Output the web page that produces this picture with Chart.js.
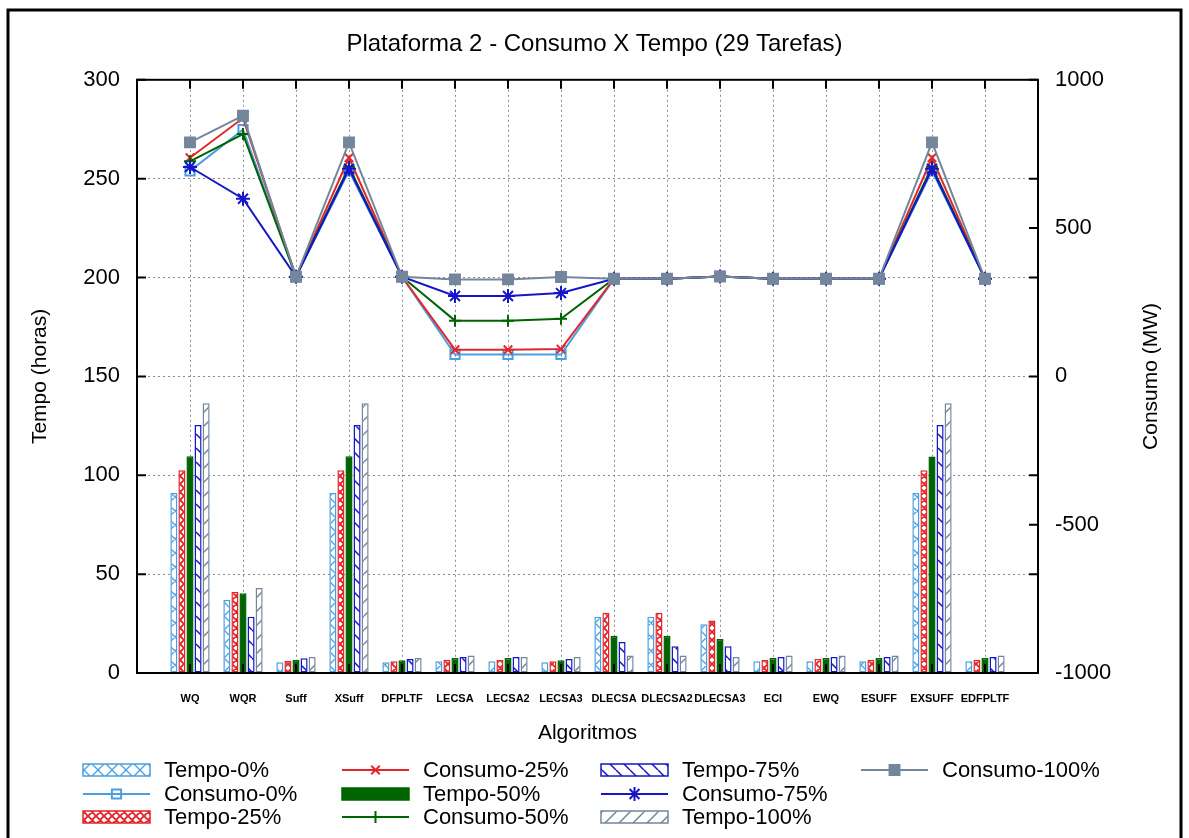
<!DOCTYPE html>
<html>
<head>
<meta charset="utf-8">
<script src="https://cdn.jsdelivr.net/npm/chart.js@4/dist/chart.umd.min.js"></script>
<style>
  html, body { margin: 0; padding: 0; background: #fff; }
  #wrap { width: 1189px; height: 838px; }
</style>
</head>
<body>
<div id="wrap"><canvas id="chart" width="1189" height="838"></canvas></div>
<script>
// --- data ---
var algoritmos = ["WQ", "WQR", "Suff", "XSuff", "DFPLTF", "LECSA", "LECSA2", "LECSA3",
  "DLECSA", "DLECSA2", "DLECSA3", "ECI", "EWQ", "ESUFF", "EXSUFF", "EDFPLTF"];

// tempo (horas), left axis
var tempo0   = [91, 37, 5.4, 91, 5.4, 5.9, 5.9, 5.4, 28.5, 28.5, 24.6, 5.9, 5.9, 5.9, 91, 5.9];
var tempo25  = [102.6, 41, 6.2, 102.6, 5.9, 6.6, 6.6, 5.9, 30.5, 30.5, 26.6, 6.6, 7.1, 6.6, 102.6, 6.6];
var tempo50  = [109.6, 40.3, 6.7, 109.6, 6.4, 7.6, 7.6, 6.4, 18.9, 18.9, 17.2, 7.6, 7.6, 7.6, 109.5, 7.6];
var tempo75  = [125.4, 28.5, 7.4, 125.4, 7.1, 8.1, 8.1, 7.1, 15.7, 13.5, 13.5, 8.1, 8.1, 8.1, 125.4, 8.1];
var tempo100 = [136.4, 43, 8.1, 136.4, 7.6, 8.9, 8.1, 8.1, 8.9, 8.9, 8.1, 8.9, 8.9, 8.9, 136.4, 8.9];

// consumo (MW), right axis
var consumo0   = [693, 832, 336, 693, 336, 74, 74, 74, 329, 329, 337, 329, 329, 329, 693, 329];
var consumo25  = [737, 871, 336, 737, 336, 90, 90, 92, 329, 329, 337, 329, 329, 329, 737, 329];
var consumo50  = [725, 817, 336, 707, 336, 188, 188, 194, 329, 329, 337, 329, 329, 329, 707, 329];
var consumo75  = [706, 599, 336, 700, 336, 271, 271, 281, 329, 329, 337, 329, 329, 329, 700, 329];
var consumo100 = [789, 879, 336, 789, 336, 327, 327, 335, 329, 329, 337, 329, 329, 329, 789, 329];

var tempoTicks = [0, 50, 100, 150, 200, 250, 300];
var consumoTicks = [-1000, -500, 0, 500, 1000];

var FONT = "'Liberation Sans', Arial, Helvetica, sans-serif";
var NARROW = "'Liberation Sans Narrow', 'Liberation Sans', Arial, sans-serif";
var C0 = "#4a9fe0", C25 = "#e3262b", C50 = "#006400", C75 = "#1616c8", C100 = "#74869c";

Chart.defaults.font.family = FONT;
Chart.defaults.color = "#000";

// gnuplot-like fill patterns
function hatch(color, kind, size, lw) {
  var c = document.createElement("canvas");
  c.width = c.height = size;
  var g = c.getContext("2d");
  g.fillStyle = "#fff";
  g.fillRect(0, 0, size, size);
  g.strokeStyle = color;
  g.lineWidth = lw;
  g.beginPath();
  [-size, 0, size].forEach(function(k) {
    if (kind === "back" || kind === "cross") { g.moveTo(k, 0); g.lineTo(k + size, size); }
    if (kind === "fwd" || kind === "cross") { g.moveTo(k + size, 0); g.lineTo(k, size); }
  });
  g.stroke();
  return g.createPattern(c, "repeat");
}

// one empty slot each side, like the xrange of the original
function pad(arr) { return [null].concat(arr, [null]); }

function barSet(label, values, color, fill) {
  return {
    type: "bar", label: label, data: pad(values), yAxisID: "y",
    backgroundColor: fill, borderColor: color, borderWidth: 1.5,
    borderSkipped: false, order: 10,
    categoryPercentage: 0.76, barPercentage: 0.88
  };
}
function lineSet(label, values, color, style, radius, fill, order) {
  return {
    type: "line", label: label, data: pad(values), yAxisID: "y2",
    borderColor: color, backgroundColor: color, borderWidth: 2,
    pointStyle: style, pointRadius: radius, pointBorderWidth: 2,
    pointBorderColor: color, pointBackgroundColor: fill,
    tension: 0, order: order
  };
}

var datasets = [
  barSet("Tempo-0%", tempo0, C0, hatch(C0, "cross", 14, 1.3)),
  lineSet("Consumo-0%", consumo0, C0, "rect", 6.5, "rgba(255,255,255,0)", 5),
  barSet("Tempo-25%", tempo25, C25, hatch(C25, "cross", 8, 1.9)),
  lineSet("Consumo-25%", consumo25, C25, "crossRot", 6, C25, 4),
  barSet("Tempo-50%", tempo50, C50, C50),
  lineSet("Consumo-50%", consumo50, C50, "cross", 6, C50, 3),
  barSet("Tempo-75%", tempo75, C75, hatch(C75, "back", 14, 1.5)),
  lineSet("Consumo-75%", consumo75, C75, "star", 7, C75, 2),
  barSet("Tempo-100%", tempo100, C100, hatch(C100, "fwd", 14, 1.5)),
  lineSet("Consumo-100%", consumo100, C100, "rect", 7, C100, 1)
];

// frame, inward tics, right axis title and the 3-row legend
var gnuplotDecor = {
  id: "gnuplotDecor",
  beforeDraw: function(chart) {
    var ctx = chart.ctx;
    ctx.save();
    ctx.fillStyle = "#fff";
    ctx.fillRect(0, 0, chart.width, chart.height);
    ctx.restore();
  },
  afterDraw: function(chart) {
    var ctx = chart.ctx, a = chart.chartArea;
    var sx = chart.scales.x, sy = chart.scales.y, sy2 = chart.scales.y2;
    ctx.save();
    // outer page frame
    ctx.strokeStyle = "#000";
    ctx.lineWidth = 3;
    ctx.strokeRect(8, 10, 1173, 840);
    ctx.lineWidth = 2;
    ctx.strokeRect(a.left, a.top, a.right - a.left, a.bottom - a.top);
    var t = 9;
    ctx.beginPath();
    for (var i = 1; i <= algoritmos.length; i++) {
      var px = sx.getPixelForValue(i);
      ctx.moveTo(px, a.top); ctx.lineTo(px, a.top + t);
      ctx.moveTo(px, a.bottom); ctx.lineTo(px, a.bottom - t);
    }
    tempoTicks.forEach(function(v) {
      var py = sy.getPixelForValue(v);
      ctx.moveTo(a.left, py); ctx.lineTo(a.left + t, py);
      ctx.moveTo(a.right, py); ctx.lineTo(a.right - t, py);
    });
    consumoTicks.forEach(function(v) {
      var py = sy2.getPixelForValue(v);
      ctx.moveTo(a.right, py); ctx.lineTo(a.right - t, py);
    });
    ctx.stroke();

    // right axis title, read bottom to top
    ctx.font = "21px " + FONT;
    ctx.fillStyle = "#000";
    ctx.textAlign = "center";
    ctx.textBaseline = "middle";
    ctx.translate(1151, (a.top + a.bottom) / 2);
    ctx.rotate(-Math.PI / 2);
    ctx.fillText("Consumo (MW)", 0, 0);
    ctx.restore();

    // legend, filled column by column
    var cols = [83, 342, 601, 861], rows = [770, 794, 817], w = 67;
    ctx.save();
    ctx.font = "22px " + FONT;
    ctx.textAlign = "left";
    ctx.textBaseline = "middle";
    chart.data.datasets.forEach(function(ds, k) {
      var x = cols[Math.floor(k / 3)], y = rows[k % 3];
      if (ds.type === "bar") {
        ctx.fillStyle = ds.backgroundColor;
        ctx.fillRect(x, y - 6, w, 12);
        ctx.strokeStyle = ds.borderColor;
        ctx.lineWidth = 1.5;
        ctx.strokeRect(x, y - 6, w, 12);
      } else {
        ctx.strokeStyle = ds.borderColor;
        ctx.lineWidth = ds.borderWidth;
        ctx.beginPath();
        ctx.moveTo(x, y); ctx.lineTo(x + w, y);
        ctx.stroke();
        ctx.fillStyle = ds.pointBackgroundColor;
        Chart.helpers.drawPoint(ctx, {
          pointStyle: ds.pointStyle, radius: ds.pointRadius,
          rotation: 0, borderWidth: ds.pointBorderWidth
        }, x + w / 2, y);
      }
      ctx.fillStyle = "#000";
      ctx.fillText(ds.label, x + 81, y + 1);
    });
    ctx.restore();
  }
};

var grid = { color: "#8a8a8a", lineWidth: 1, drawTicks: false };
var border = { color: "#000", width: 2, dash: [2, 3] };
var plain = function(v) { return String(v); };

new Chart(document.getElementById("chart"), {
  type: "bar",
  data: { labels: pad(algoritmos).map(function(l) { return l || ""; }), datasets: datasets },
  options: {
    responsive: false,
    animation: false,
    devicePixelRatio: 1,
    layout: { padding: { left: 0, right: 0, top: 0, bottom: 85 } },
    plugins: {
      legend: { display: false },
      tooltip: { enabled: false },
      title: {
        display: true,
        text: "Plataforma 2 - Consumo X Tempo (29 Tarefas)",
        font: { size: 24, weight: "normal" },
        color: "#000",
        padding: { top: 30, bottom: 21 }
      }
    },
    scales: {
      x: {
        type: "category",
        offset: false,
        grid: { color: "#8a8a8a", lineWidth: 1, drawTicks: false, offset: false },
        border: border,
        ticks: {
          autoSkip: false, maxRotation: 0, minRotation: 0, padding: 19,
          font: { size: 11, weight: "bold", family: NARROW }
        },
        title: { display: true, text: "Algoritmos", font: { size: 21 }, padding: { top: 0, bottom: 7 } },
        afterFit: function(s) { s.height = 80; }
      },
      y: {
        position: "left",
        min: 0, max: 300,
        ticks: { stepSize: 50, padding: 17, font: { size: 22 }, callback: plain },
        grid: grid,
        border: border,
        title: { display: true, text: "Tempo (horas)", font: { size: 21 }, padding: { top: 28, bottom: 0 } },
        afterFit: function(s) { s.width = 137; }
      },
      y2: {
        position: "right",
        min: -1000, max: 1000,
        ticks: { stepSize: 500, padding: 17, font: { size: 22 }, callback: plain },
        grid: { drawOnChartArea: false, drawTicks: false },
        border: { color: "#000", width: 2 },
        afterFit: function(s) { s.width = 151; }
      }
    }
  },
  plugins: [gnuplotDecor]
});
</script>
</body>
</html>
